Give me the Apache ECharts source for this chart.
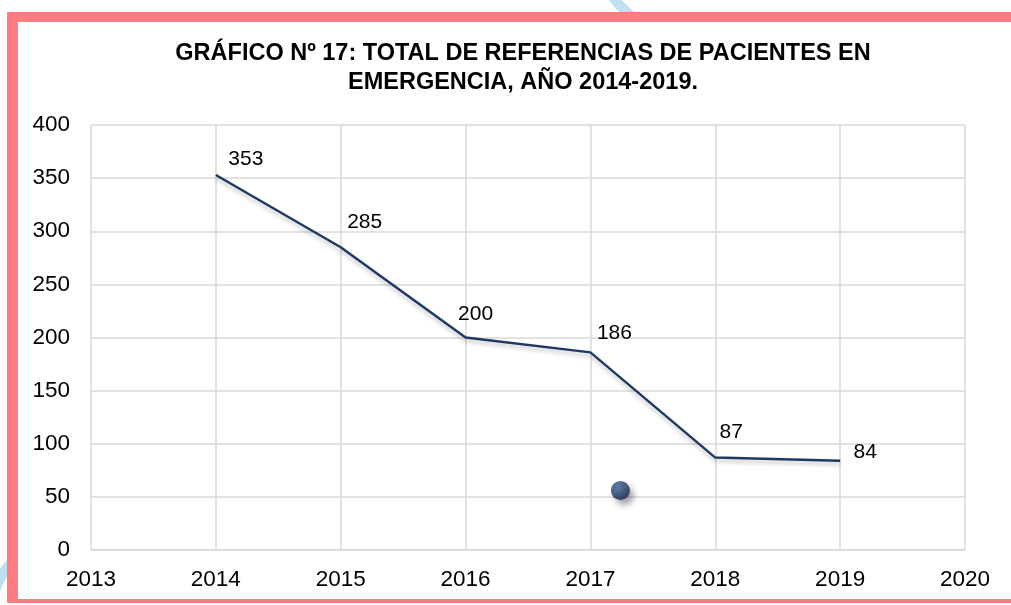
<!DOCTYPE html>
<html>
<head>
<meta charset="utf-8">
<script src="https://cdn.jsdelivr.net/npm/echarts@6/dist/echarts.min.js"></script>
<style>
html,body{margin:0;padding:0;background:#fff;}
#c{width:1011px;height:605px;}
</style>
</head>
<body>
<div id="c"></div>
<script>
const titleText = 'GRÁFICO Nº 17: TOTAL DE REFERENCIAS DE PACIENTES EN\nEMERGENCIA, AÑO 2014-2019.';
const years = [2014, 2015, 2016, 2017, 2018, 2019];
const values = [353, 285, 200, 186, 87, 84];
const stray = [[2017.24, 56]];
const labelOffsets = [[30, -16], [24, -25], [10, -23], [24, -19], [16, -25], [25, -9]];

const chart = echarts.init(document.getElementById('c'));
const font = '"Liberation Sans", Arial, sans-serif';
chart.setOption({
  backgroundColor: '#fff',
  animation: false,
  title: {
    text: titleText,
    left: 518, top: 34, textAlign: 'center',
    textStyle: {fontFamily: font, fontWeight: 'bold', fontSize: 23.5, color: '#000', lineHeight: 29}
  },
  grid: {left: 91, right: 46, top: 125, bottom: 55, containLabel: false},
  xAxis: {
    type: 'value', min: 2013, max: 2020, interval: 1,
    axisLine: {show: true, lineStyle: {color: '#d9d9d9', width: 1.5}},
    axisTick: {show: false},
    splitLine: {show: true, lineStyle: {color: '#d9d9d9', width: 1.5}},
    axisLabel: {fontFamily: font, fontSize: 22.5, color: '#000', margin: 18, formatter: v => String(v)}
  },
  yAxis: {
    type: 'value', min: 0, max: 400, interval: 50,
    axisLine: {show: false}, axisTick: {show: false},
    splitLine: {show: true, lineStyle: {color: '#d9d9d9', width: 1.5}},
    axisLabel: {fontFamily: font, fontSize: 22.5, color: '#000', margin: 21}
  },
  graphic: [
    {type: 'arc', shape: {cx: 700, cy: -70, r: 110, startAngle: 1.9, endAngle: 2.9}, style: {stroke: '#bfe0ee', lineWidth: 10, fill: null}, z: -10},
    {type: 'arc', shape: {cx: 80, cy: 620, r: 90, startAngle: 3.3, endAngle: 4.4}, style: {stroke: '#bfe0ee', lineWidth: 10, fill: null}, z: -10},
    {type: 'rect', shape: {x: 18, y: 22, width: 993, height: 577}, style: {fill: '#fff'}, z: -5},
    {type: 'rect', shape: {x: 7, y: 12, width: 1004, height: 10}, style: {fill: '#ff7c80'}, z: 10},
    {type: 'rect', shape: {x: 7, y: 12, width: 11, height: 591}, style: {fill: '#ff7c80'}, z: 10},
    {type: 'rect', shape: {x: 7, y: 599, width: 1004, height: 4}, style: {fill: '#ff7c80'}, z: 10}
  ],
  series: [
    {
      type: 'line',
      data: years.map((y, i) => ({
        value: [y, values[i]],
        label: {offset: labelOffsets[i]}
      })),
      symbol: 'circle', symbolSize: 1, showSymbol: true,
      itemStyle: {color: 'rgba(0,0,0,0)'},
      lineStyle: {color: '#1f3864', width: 2.4, shadowColor: 'rgba(0,0,0,0.25)', shadowBlur: 4, shadowOffsetY: 3},
      label: {
        show: true, position: 'inside',
        fontFamily: font, fontSize: 21, color: '#000',
        formatter: p => p.value[1]
      }
    },
    {
      type: 'scatter',
      data: stray,
      symbol: 'circle', symbolSize: 19,
      itemStyle: {
        color: {type: 'radial', x: 0.4, y: 0.35, r: 0.7, colorStops: [{offset: 0, color: '#3d6398'}, {offset: 1, color: '#0d2448'}]},
        shadowColor: 'rgba(0,0,0,0.45)', shadowBlur: 6, shadowOffsetX: 4, shadowOffsetY: 5
      }
    }
  ]
});
</script>
</body>
</html>
